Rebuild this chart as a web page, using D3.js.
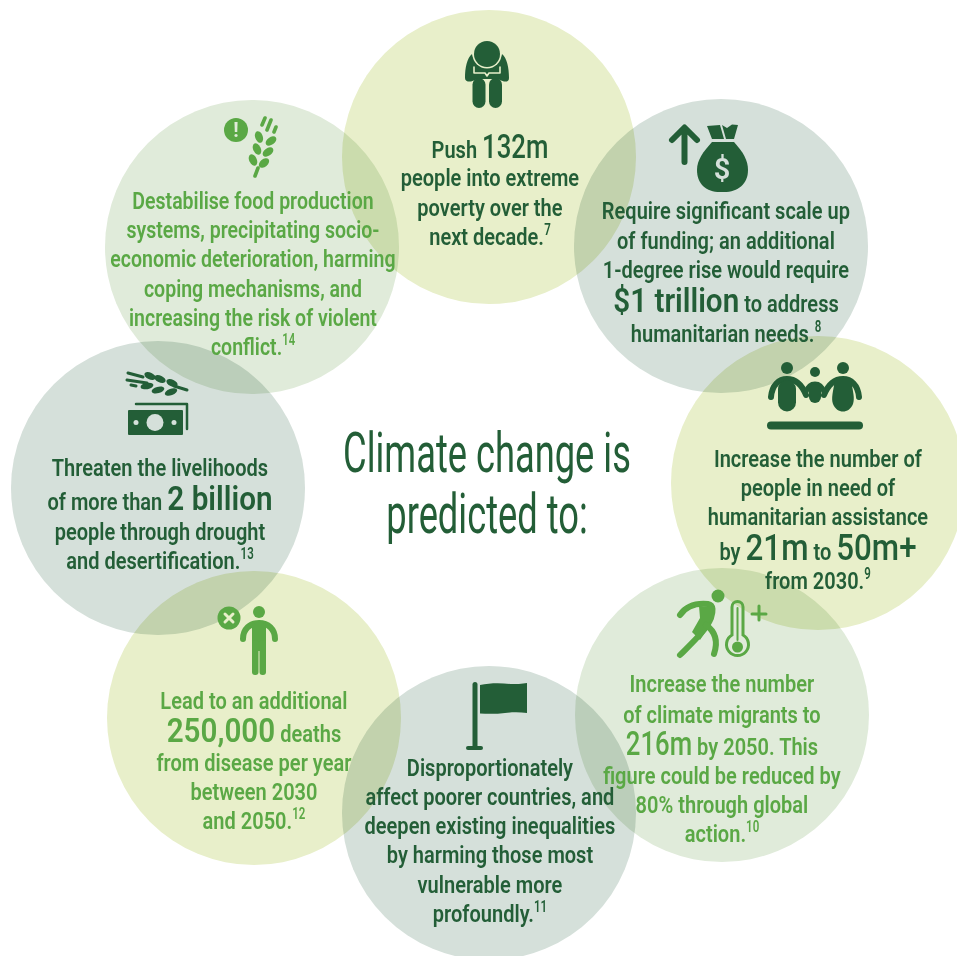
<!DOCTYPE html>
<html><head><meta charset="utf-8">
<script src="https://cdnjs.cloudflare.com/ajax/libs/d3/7.8.5/d3.min.js"></script>
<style>
html,body{margin:0;padding:0;background:#fff}
svg{display:block}
text{font-family:Roboto,sans-serif;font-weight:600}
.disc{mix-blend-mode:multiply}
</style></head><body>
<svg id="c" width="957" height="956"></svg>
<script>
// ---- content ----
const title = ["Climate change is", "predicted to:"];
// line = list of runs: [text, kind]  kind: n normal, b/B/C big figures, s superscript
const msgPush = [[["Push","n"],["132m","b"]],[["people into extreme","n"]],[["poverty over the","n"]],[["next decade.","n"],["7","s"]]];
const msgFunding = [[["Require significant scale up","n"]],[["of funding; an additional","n"]],[["1-degree rise would require","n"]],[["$1 trillion","B"],["to address","n"]],[["humanitarian needs.","n"],["8","s"]]];
const msgNeed = [[["Increase the number of","n"]],[["people in need of","n"]],[["humanitarian assistance","n"]],[["by","n"],["21m","C"],["to","n"],["50m+","C"]],[["from 2030.","n"],["9","s"]]];
const msgMigrants = [[["Increase the number","n"]],[["of climate migrants to","n"]],[["216m","b"],["by 2050. This","n"]],[["figure could be reduced by","n"]],[["80% through global","n"]],[["action.","n"],["10","s"]]];
const msgPoorer = [[["Disproportionately","n"]],[["affect poorer countries, and","n"]],[["deepen existing inequalities","n"]],[["by harming those most","n"]],[["vulnerable more","n"]],[["profoundly.","n"],["11","s"]]];
const msgDeaths = [[["Lead to an additional","n"]],[["250,000","B"],["deaths","n"]],[["from disease per year","n"]],[["between 2030","n"]],[["and 2050.","n"],["12","s"]]];
const msgLivelihoods = [[["Threaten the livelihoods","n"]],[["of more than","n"],["2 billion","B"]],[["people through drought","n"]],[["and desertification.","n"],["13","s"]]];
const msgFood = [[["Destabilise food production","n"]],[["systems, precipitating socio-","n"]],[["economic deterioration, harming","n"]],[["coping mechanisms, and","n"]],[["increasing the risk of violent","n"]],[["conflict.","n"],["14","s"]]];
const messages = [msgPush,msgFunding,msgNeed,msgMigrants,msgPoorer,msgDeaths,msgLivelihoods,msgFood];

// ---- layout (kept apart from the content) ----
const W=957,H=956,R=147;
const LIME="#e8efca",SAGE="#d5e0da",MINT="#e0ebda",DARK="#235e37",MID="#5aa845";
const discs=[
 {cx:489,cy:157,fill:LIME,ink:DARK,tx:490,k:1,base:[158,186,216,245]},
 {cx:721,cy:246,fill:SAGE,ink:DARK,tx:726,k:1,base:[219,249,278,312,342]},
 {cx:818,cy:483,fill:LIME,ink:DARK,tx:818,k:1,base:[467,496,525,560,589]},
 {cx:722,cy:715,fill:MINT,ink:MID,tx:722,k:1,base:[692,723,755,784,813,842]},
 {cx:489,cy:813,fill:SAGE,ink:DARK,tx:490,k:1,base:[776,805,834,863,893,922]},
 {cx:254,cy:718,fill:LIME,ink:MID,tx:254,k:1,base:[709,742,771,800,829]},
 {cx:158,cy:488,fill:SAGE,ink:DARK,tx:160,k:1,base:[476,510,540,569]},
 {cx:252,cy:247,fill:MINT,ink:MID,tx:253,k:.975,base:[209,238,267,297,326,355]}
];
const svg=d3.select("#c");
svg.append("g").selectAll("circle").data(discs).join("circle").attr("class","disc")
 .attr("cx",d=>d.cx).attr("cy",d=>d.cy).attr("r",R).attr("fill",d=>d.fill);

// ---- message text: each run is placed after measuring it, with its own width factor ----
const kinds={
 n:{fs:24,sx:.835,w:600,gap:5,dy:0},
 b:{fs:33,sx:.78,w:500,gap:5,dy:0},
 B:{fs:33.5,sx:.885,w:600,gap:5,dy:0},
 C:{fs:36,sx:.87,w:500,gap:5,dy:0},
 s:{fs:16,sx:.72,w:600,gap:0,dy:-10}
};
const blocks=svg.append("g").selectAll("g").data(discs).join("g").attr("fill",d=>d.ink);
blocks.each(function(d,i){
  d3.select(this).selectAll("g").data(messages[i]).join("g").each(function(line,j){
    const g=d3.select(this);
    const items=line.map(([s,k])=>{
      const t=g.append("text").text(s).attr("font-size",kinds[k].fs).style("font-weight",kinds[k].w);
      return {t,k,sx:kinds[k].sx*d.k,w:t.node().getComputedTextLength()*kinds[k].sx*d.k};
    });
    let total=0;
    items.forEach((it,n)=>{ if(n>0) total+=kinds[it.k].gap; total+=it.w; });
    let x=d.tx-total/2;
    items.forEach((it,n)=>{
      if(n>0) x+=kinds[it.k].gap;
      it.t.attr("transform",`translate(${x},${d.base[j]+kinds[it.k].dy}) scale(${it.sx},1)`);
      x+=it.w;
    });
  });
});

// ---- title ----
svg.append("g").selectAll("text").data(title).join("text")
 .attr("text-anchor","middle").attr("fill",DARK).attr("font-size",56).style("font-weight",400)
 .attr("transform",(d,i)=>`translate(487,${[472,533][i]}) scale(.648,1)`).text(d=>d);

// ---- icons ----
const ic=svg.append("g");
function P(d,fill,extra){const p=ic.append("path").attr("d",d).attr("fill",fill||"none");if(extra)for(const k in extra)p.attr(k,extra[k]);return p;}
function S(d,col,w){return P(d,"none",{stroke:col,"stroke-width":w,"stroke-linecap":"round","stroke-linejoin":"round"});}
function C(x,y,r,fill){return ic.append("circle").attr("cx",x).attr("cy",y).attr("r",r).attr("fill",fill);}
function leaf(x,y,l,w,a,fill){ic.append("ellipse").attr("cx",x).attr("cy",y).attr("rx",l).attr("ry",w).attr("transform",`rotate(${a} ${x} ${y})`).attr("fill",fill);}
function RR(x,y,w,h,r,fill){return ic.append("rect").attr("x",x).attr("y",y).attr("width",w).attr("height",h).attr("rx",r).attr("fill",fill);}

// hunched person
P("M472 54C467 58 465 68 465 78C465 81 468 82 471 81.5L478 79L497 79L504 81.5C507 82 509 81 509 78C509 68 507 58 502 54C500 62 494 68 487 68C480 68 474 62 472 54Z",DARK);
S("M474 67L474 73L485 73L487 76L489 73L500 73L500 67",LIME,1.6);
C(487,54,14.5,LIME);C(487,54,13,DARK);
RR(472.5,78,13,30,6.5,DARK);RR(489,78,13,30,6.5,DARK);

// arrow + money bag
S("M684.5 162V128M672 140L684.5 127.5L697 140",DARK,6);
P("M707 126L720 125L724 139L712 139ZM722 125L727 128L732 124.5L738 125L734 139L726 139Z",DARK);
P("M712 142L734 142C743 152 748 160 748 170C748 184 738 192 724 192L720 192C706 192 697 184 697 170C697 160 703 152 712 142Z",DARK);
ic.append("text").attr("x",722).attr("y",179).attr("text-anchor","middle").attr("font-size",29).attr("fill",SAGE).text("$");

// family
C(787,368,6,DARK);C(815,372,5,DARK);C(843,368,6,DARK);
S("M771 397C772 385 779 379 787 379C796 379 802 385 806 395",DARK,6);
S("M859 397C858 385 851 379 843 379C834 379 828 385 824 395",DARK,6);
S("M806 392C808 386 812 384 815 384C818 384 822 386 824 392",DARK,5);
RR(778,380,18,31.5,9,DARK);
P("M835 380L851 380C853 392 855 398 853 404C851 409 847 411.5 843 411.5C839 411.5 835 409 833 404C831 398 833 392 835 380Z",DARK);
RR(809,384,12,19,6,DARK);
RR(767,421.5,96,8,4,DARK);

// walker + thermometer
C(718,596,6.5,MID);
S("M680 615C686 606 697 603 708 604C714 605 713 612 711 618C706 630 695 640 680 655",MID,6);
P("M699 606L714 607L708 628L700 640L692 632L700 618Z",MID);
S("M706 625C716 632 718 642 714 654",MID,6);
ic.append("path").attr("d","M732 607A5.5 5.5 0 0 1 743 607V635A11 11 0 1 1 732 635Z").attr("fill","none").attr("stroke",MID).attr("stroke-width",3);
S("M737.5 608V640",MID,2);C(737.5,647,5.5,MID);
S("M759 606V620M752 614H766",MID,3);

// flag
RR(472.5,682,5,66,2.5,DARK);RR(466,746,17,4,2,DARK);
P("M480 685C490 683 500 683 510 684C516 684 522 684 527 683L527 713C520 712 512 712 505 713C497 714 488 714 480 713.5Z",DARK);

// person with cross
C(259,612,6,MID);
S("M243 639C243 629 250 623 259 623C268 623 275 629 275 639",MID,6);
RR(252,623,14,28,3,MID);
RR(252,640,6.5,35,3,MID);RR(259.5,640,6.5,35,3,MID);
C(229,618,11.5,MID);
S("M225 614L233 622M233 614L225 622",LIME,3);

// money + wheat
RR(128,410,55,25,1,DARK);
S("M136 404H187V429",DARK,2.5);
C(155,422.5,8.5,SAGE);C(136,422.5,2.5,SAGE);C(174,422.5,2.5,SAGE);
[[150,376,6,3.4,25],[160,379,6,3.4,25],[172,383,6,3.4,25],[147,386,6.5,3.2,-10],[158,390,6.5,3.2,-15],[171,392,6.5,3.2,-20]].forEach(a=>leaf(a[0],a[1],a[2],a[3],a[4],DARK));
S("M128 373L143 377M127 380L147 383M131 385L136 386M174 386L187 390",DARK,3);

// alert + wheat
C(236,130,12,MID);
ic.append("text").attr("x",236).attr("y",137).attr("text-anchor","middle").attr("font-size",20).attr("fill",MINT).style("font-weight",700).text("!");
S("M255 176L258 168M262 125L265 118M267 130L271 120M274 132L276 127",MID,3.6);
[[259,137,6,3.8,70],[271,141,6,3.8,-35],[257,149,6,3.8,65],[268,152,6,3.8,-35],[253,160,6,3.8,65],[264,163,6,3.8,-40]].forEach(a=>leaf(a[0],a[1],a[2],a[3],a[4],MID));
</script></body></html>
